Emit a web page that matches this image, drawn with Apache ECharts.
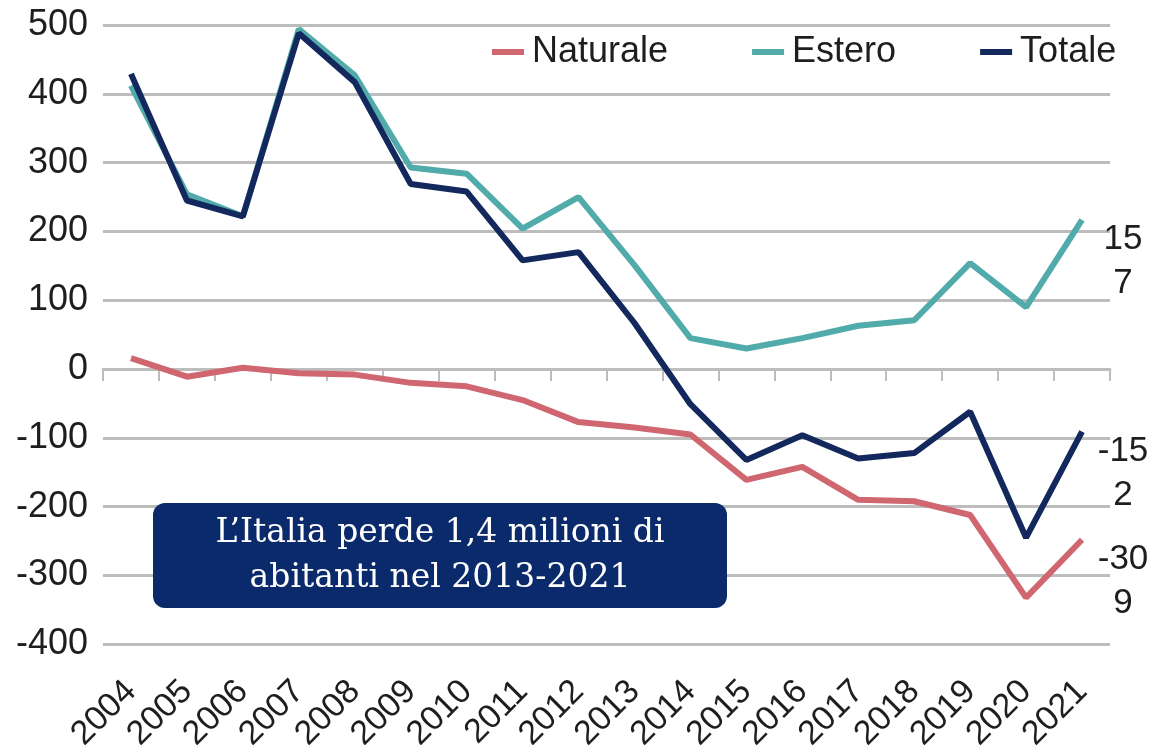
<!DOCTYPE html>
<html>
<head>
<meta charset="utf-8">
<script src="https://cdn.jsdelivr.net/npm/echarts@6/dist/echarts.min.js"></script>
<style>
html,body{margin:0;padding:0;background:#fff;}
#c{width:1156px;height:754px;}
</style>
</head>
<body>
<div id="c"></div>
<script>
const years = ['2004','2005','2006','2007','2008','2009','2010','2011','2012','2013','2014','2015','2016','2017','2018','2019','2020','2021'];
const naturale = [16, -11, 2, -6, -8, -20, -25, -45, -77, -85, -95, -161, -142, -190, -192, -212, -332, -248];
const estero = [412, 254, 222, 494, 427, 293, 284, 204, 250, 151, 45, 30, 45, 63, 71, 154, 90, 217];
const totale = [429, 245, 222, 488, 417, 269, 258, 158, 170, 67, -51, -132, -96, -130, -122, -62, -245, -91];
const endLabels = { Naturale: -309, Estero: 157, Totale: -152 };
const yTicks = { min: -400, max: 500, interval: 100 };
const noteText = 'L\u2019Italia perde 1,4 milioni di\nabitanti nel 2013-2021';

const colors = { Naturale: '#cf6670', Estero: '#52abab', Totale: '#13285c' };
const textColor = '#1e1e1e';
const FONT = 'Liberation Sans, Arial, sans-serif';

function mkSeries(name, data) {
  return {
    name: name,
    type: 'line',
    xAxisIndex: 0,
    data: data,
    symbol: 'none',
    lineStyle: { width: 6, color: colors[name] },
    itemStyle: { color: colors[name] },
    markPoint: {
      symbol: 'circle',
      symbolSize: 1,
      itemStyle: { color: 'rgba(0,0,0,0)' },
      data: [{ coord: [years[years.length - 1], endLabels[name]], value: endLabels[name] }],
      label: {
        show: true,
        position: 'inside',
        offset: [41, 0],
        fontFamily: FONT,
        fontSize: 35,
        lineHeight: 44,
        color: textColor,
        align: 'center',
        formatter: function (p) {
          const s = String(p.value);
          return s.slice(0, -1) + '\n' + s.slice(-1);
        }
      }
    }
  };
}

const chart = echarts.init(document.getElementById('c'), null, { renderer: 'canvas' });
chart.setOption({
  animation: false,
  backgroundColor: '#fff',
  grid: { left: 103, right: 46, top: 25, bottom: 109, containLabel: false },
  legend: {
    left: 487,
    top: 29,
    itemGap: 84,
    itemWidth: 32,
    itemHeight: 6,
    icon: 'rect',
    textStyle: { fontFamily: FONT, fontSize: 36, color: textColor, padding: [0, 0, 0, 3] },
    data: ['Naturale', 'Estero', 'Totale']
  },
  xAxis: [
    {
      type: 'category',
      data: years,
      boundaryGap: true,
      axisLine: { onZero: true, lineStyle: { color: '#bdbdbd', width: 3 } },
      axisTick: { show: true, length: 12, lineStyle: { color: '#bdbdbd', width: 2 } },
      axisLabel: { show: false },
      splitLine: { show: false }
    },
    {
      type: 'category',
      data: years,
      position: 'bottom',
      boundaryGap: true,
      axisLine: { show: false, onZero: false },
      axisTick: { show: false },
      axisLabel: {
        show: true,
        rotate: 45,
        interval: 0,
        margin: 42,
        fontFamily: FONT,
        fontSize: 34,
        color: textColor
      }
    }
  ],
  yAxis: {
    type: 'value',
    min: yTicks.min,
    max: yTicks.max,
    interval: yTicks.interval,
    axisLine: { show: false },
    axisTick: { show: false },
    axisLabel: { margin: 15, fontFamily: FONT, fontSize: 36, color: textColor },
    splitLine: { lineStyle: { color: '#bdbdbd', width: 3 } }
  },
  series: [
    mkSeries('Naturale', naturale),
    mkSeries('Estero', estero),
    mkSeries('Totale', totale)
  ],
  graphic: [
    {
      type: 'rect',
      shape: { x: 153, y: 503, width: 574, height: 105, r: 12 },
      style: { fill: '#0b2a6b' },
      z: 100
    },
    {
      type: 'text',
      x: 440,
      y: 556,
      z: 101,
      style: {
        text: noteText,
        font: '33px "DejaVu Serif", serif',
        fill: '#ffffff',
        textAlign: 'center',
        textVerticalAlign: 'middle',
        lineHeight: 45
      }
    }
  ]
});
</script>
</body>
</html>
